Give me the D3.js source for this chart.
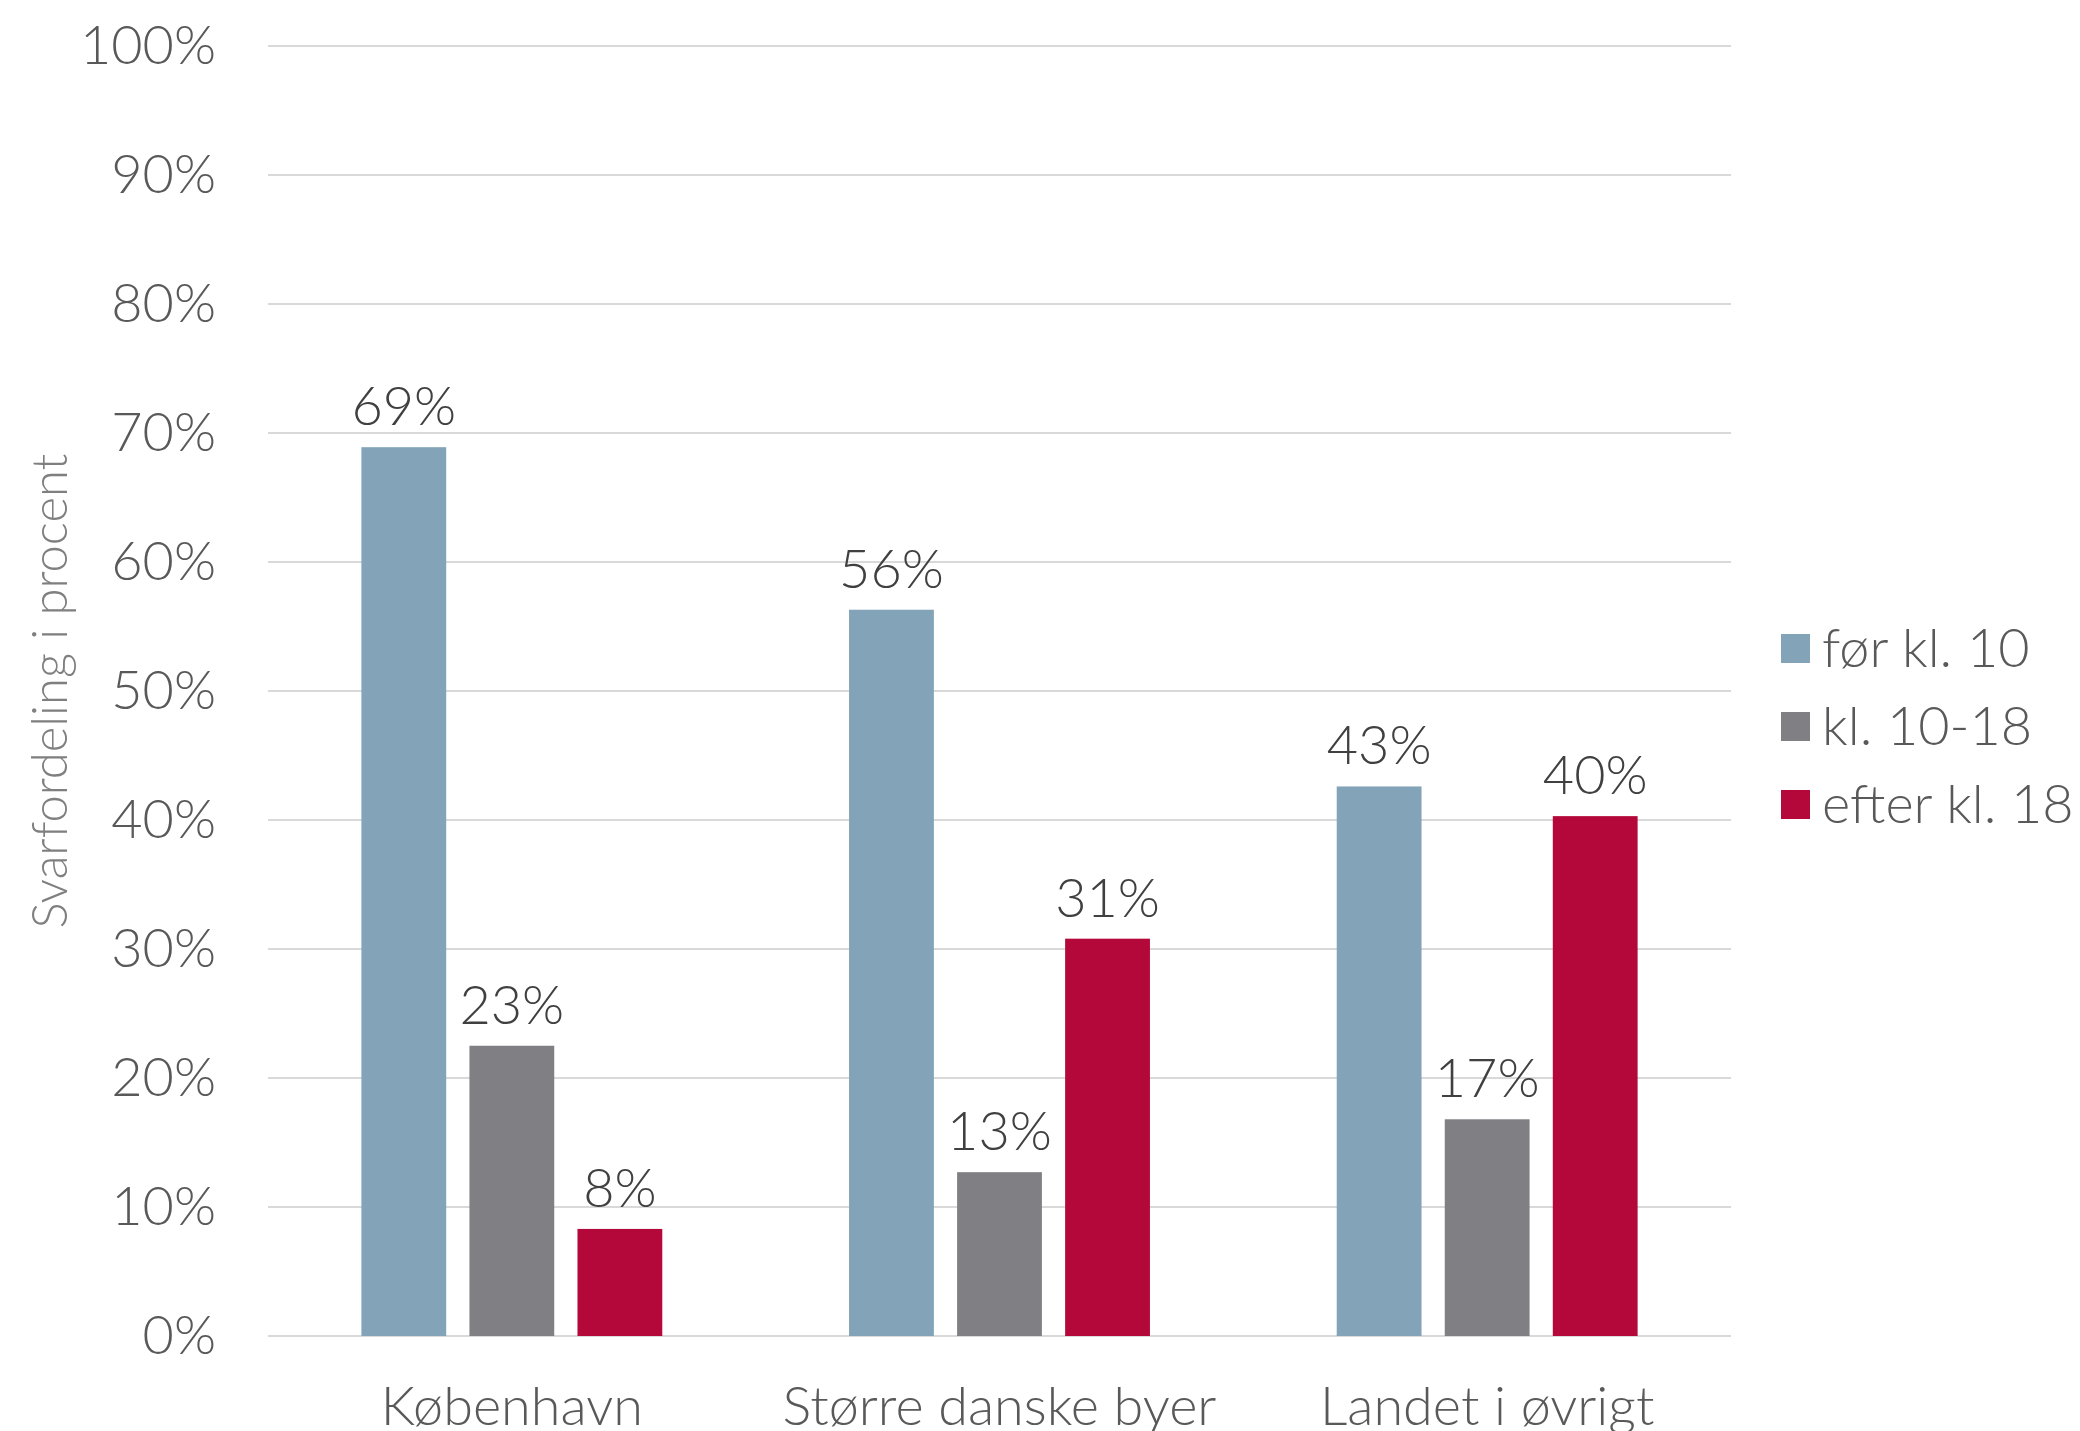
<!DOCTYPE html>
<html>
<head>
<meta charset="utf-8">
<script src="https://cdn.jsdelivr.net/npm/d3@7"></script>
<style>
  html, body { margin: 0; padding: 0; background: #fff; }
  svg text { font-family: Lato, "Open Sans", sans-serif; font-weight: 300; }
</style>
</head>
<body>
<svg id="chart" width="2080" height="1431"></svg>
<script>
// data
const categories = ['København', 'Større danske byer', 'Landet i øvrigt'];
const seriesNames = ['før kl. 10', 'kl. 10-18', 'efter kl. 18'];
const foerKl10 = [68.9, 56.3, 42.6];
const kl10til18 = [22.5, 12.7, 16.8];
const efterKl18 = [8.3, 30.8, 40.3];
const valueLabels = [[69, 56, 43], [23, 13, 17], [8, 31, 40]];
const yTicks = [0, 10, 20, 30, 40, 50, 60, 70, 80, 90, 100];

const colors = ['#82a3b8', '#807f84', '#b4083a'];
const series = [foerKl10, kl10til18, efterKl18];

const svg = d3.select('#chart');
const plotLeft = 268, plotRight = 1731, plotTop = 46, plotBottom = 1336;
const fontSize = 54;

const x0 = d3.scaleBand()
  .domain(categories)
  .range([plotLeft, plotRight])
  .paddingInner(0.383)
  .paddingOuter(0.1915);

const x1 = d3.scaleBand()
  .domain(d3.range(seriesNames.length))
  .range([0, x0.bandwidth()])
  .paddingInner(0.215);

const y = d3.scaleLinear().domain([0, 100]).range([plotBottom, plotTop]);

// gridlines
svg.append('g')
  .selectAll('line')
  .data(yTicks)
  .join('line')
  .attr('x1', plotLeft)
  .attr('x2', plotRight)
  .attr('y1', d => y(d))
  .attr('y2', d => y(d))
  .attr('stroke', '#d9d9d9')
  .attr('stroke-width', 2);

// y axis labels
const yAxis = d3.axisLeft(y)
  .tickValues(yTicks)
  .tickFormat(d => d + '%')
  .tickSize(0)
  .tickPadding(0);
const yg = svg.append('g')
  .attr('transform', `translate(216,0)`)
  .call(yAxis);
yg.select('.domain').remove();
yg.selectAll('text')
  .attr('font-size', fontSize)
  .attr('fill', '#595959')
  .style('font-family', 'Lato, sans-serif');

// axis title
svg.append('text')
  .attr('transform', `translate(67,691) rotate(-90)`)
  .attr('text-anchor', 'middle')
  .attr('font-size', 49)
  .attr('fill', '#7f7f7f')
  .text('Svarfordeling i procent');

// bars
const groups = svg.append('g')
  .selectAll('g')
  .data(categories)
  .join('g')
  .attr('transform', d => `translate(${x0(d)},0)`);

const cells = (d, ci) => series.map((s, si) => ({ si, v: s[ci], label: valueLabels[si][ci] }));

groups.selectAll('rect')
  .data(cells)
  .join('rect')
  .attr('x', d => x1(d.si))
  .attr('width', x1.bandwidth())
  .attr('y', d => y(d.v))
  .attr('height', d => y(0) - y(d.v))
  .attr('fill', d => colors[d.si]);

groups.selectAll('text')
  .data(cells)
  .join('text')
  .attr('x', d => x1(d.si) + x1.bandwidth() / 2)
  .attr('y', d => y(d.v) - 22)
  .attr('text-anchor', 'middle')
  .attr('font-size', fontSize)
  .attr('fill', '#404040')
  .text(d => d.label + '%');

// category axis
const xAxis = d3.axisBottom(x0).tickSize(0).tickPadding(0);
const xg = svg.append('g')
  .attr('transform', `translate(0,1425)`)
  .call(xAxis);
xg.select('.domain').remove();
xg.selectAll('text')
  .attr('dy', 0)
  .attr('font-size', fontSize)
  .attr('fill', '#595959')
  .style('font-family', 'Lato, sans-serif');

// legend
const legend = svg.append('g')
  .selectAll('g')
  .data(seriesNames)
  .join('g')
  .attr('transform', (d, i) => `translate(1781,${634 + i * 78})`);

legend.append('rect')
  .attr('width', 29)
  .attr('height', 29)
  .attr('fill', (d, i) => colors[i]);

legend.append('text')
  .attr('x', 41)
  .attr('y', 33)
  .attr('font-size', fontSize)
  .attr('fill', '#595959')
  .text(d => d);
</script>
</body>
</html>
